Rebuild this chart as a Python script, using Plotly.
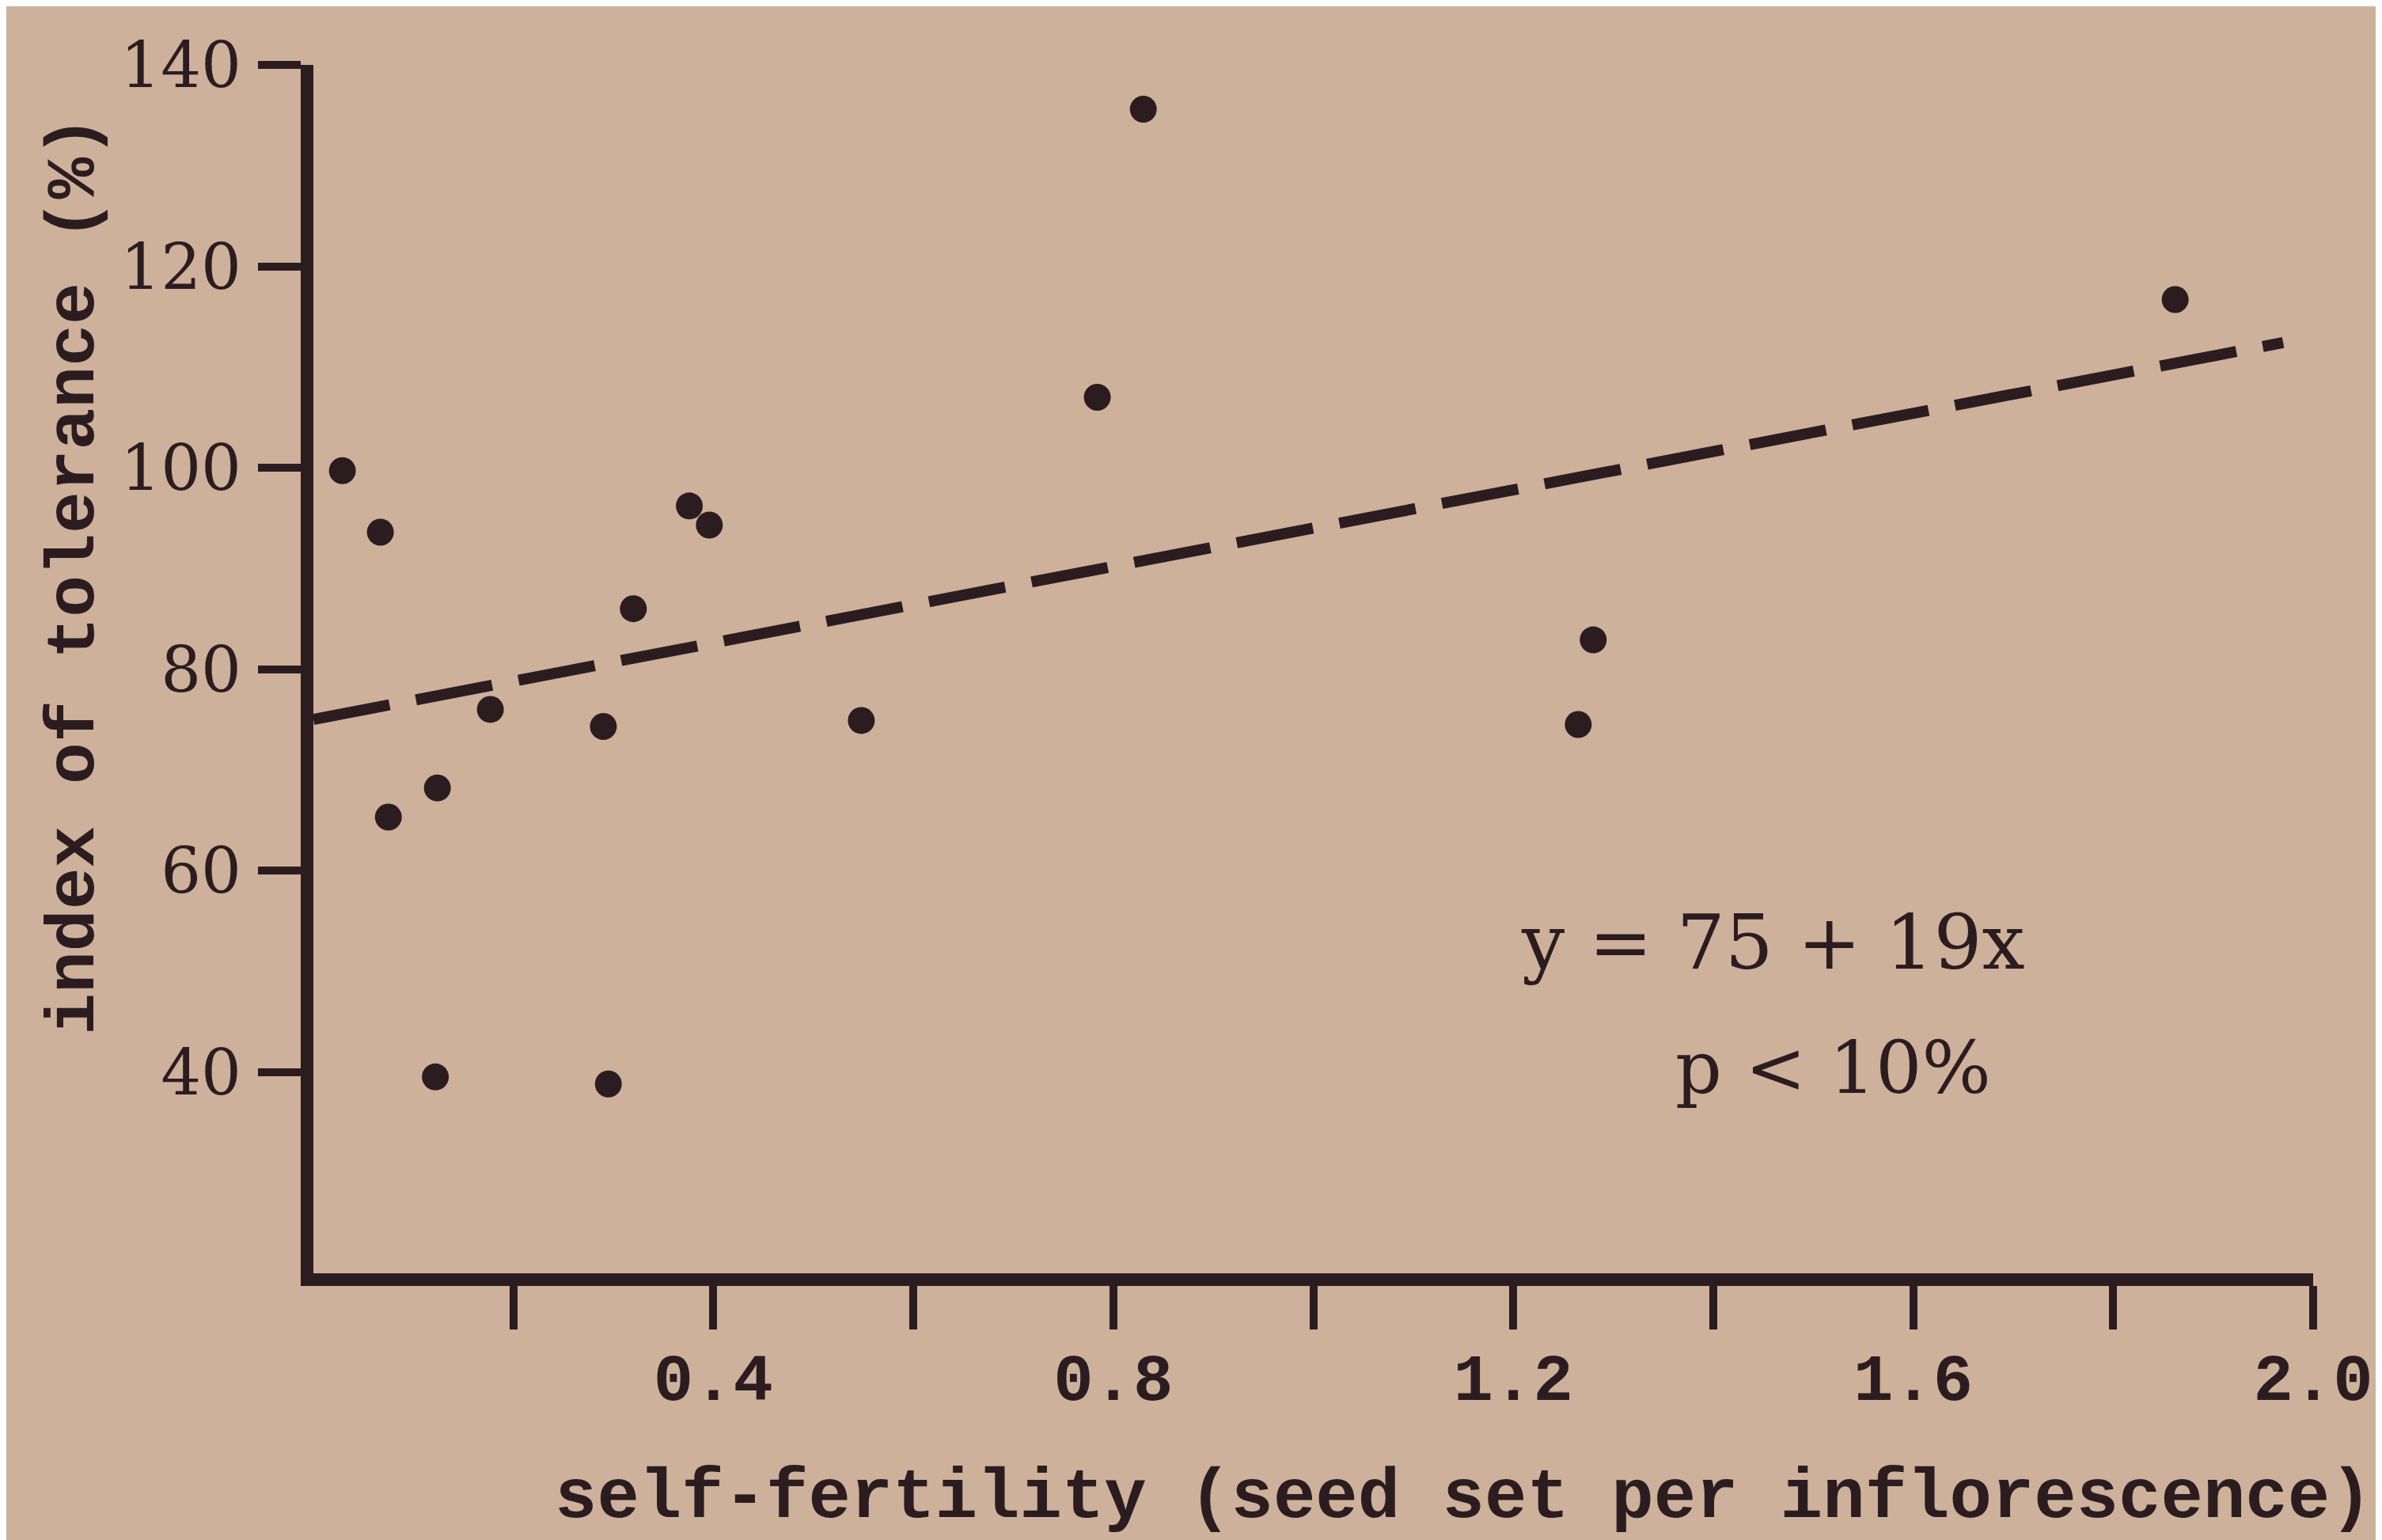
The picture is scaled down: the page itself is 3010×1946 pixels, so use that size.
import plotly.graph_objects as go

# ---- data ----
self_fertility = [0.029, 0.067, 0.075, 0.124, 0.122, 0.177, 0.290, 0.295, 0.320,
                  0.376, 0.396, 0.548, 0.784, 0.830, 1.265, 1.280, 1.862]
tolerance = [99.7, 93.6, 65.3, 68.2, 39.5, 76.0, 74.3, 38.8, 86.0,
             96.2, 94.3, 74.9, 107.0, 135.6, 74.5, 82.9, 116.7]
fit_intercept = 75
fit_slope = 19
fit_x = [0.0, 1.97]
x_tickvals = [0.2, 0.4, 0.6, 0.8, 1.0, 1.2, 1.4, 1.6, 1.8, 2.0]
x_labelvals = [0.4, 0.8, 1.2, 1.6, 2.0]
x_labeltext = ["0.4", "0.8", "1.2", "1.6", "2.0"]
y_tickvals = [40, 60, 80, 100, 120, 140]
y_ticktext = ["40", "60", "80", "100", "120", "140"]

fit_y = [fit_intercept + fit_slope * v for v in fit_x]

INK = "#2b1d1f"
BG = "#cdb19b"

fig = go.Figure()
fig.add_trace(go.Scatter(x=fit_x, y=fit_y, mode="lines",
                         line=dict(color=INK, width=14, dash="98px,34px"),
                         hoverinfo="skip", showlegend=False))
fig.add_trace(go.Scatter(x=self_fertility, y=tolerance, mode="markers",
                         marker=dict(color=INK, size=34), showlegend=False))
# invisible trace carrying the overlay axis used for the x tick labels
fig.add_trace(go.Scatter(x=[x_labelvals[0]], y=[tolerance[0]], xaxis="x2",
                         mode="markers", marker=dict(opacity=0),
                         hoverinfo="skip", showlegend=False))

fig.update_layout(
    width=3010, height=1946,
    paper_bgcolor=BG, plot_bgcolor=BG,
    margin=dict(l=388, r=95, t=74, b=345),
    showlegend=False,
    xaxis=dict(range=[0, 2.0], showgrid=False, zeroline=False,
               showline=True, linecolor=INK, linewidth=16,
               tickmode="array", tickvals=x_tickvals, showticklabels=False,
               ticks="outside", ticklen=55, tickwidth=10, tickcolor=INK),
    xaxis2=dict(overlaying="x", side="bottom", range=[0, 2.0], showgrid=False,
                zeroline=False, showline=False, ticks="", ticklen=0,
                tickmode="array", tickvals=x_labelvals, ticktext=x_labeltext,
                ticklabelstandoff=75,
                tickfont=dict(family="Liberation Mono", size=84, color=INK, weight="bold")),
    yaxis=dict(range=[20, 140], showgrid=False, zeroline=False,
               showline=True, linecolor=INK, linewidth=16,
               tickmode="array", tickvals=y_tickvals, ticktext=y_ticktext,
               ticks="outside", ticklen=54, tickwidth=10, tickcolor=INK,
               ticklabelstandoff=5,
               tickfont=dict(family="DejaVu Serif", size=80, color=INK)),
)

fig.add_annotation(text="self-fertility (seed set per inflorescence)",
                   xref="paper", yref="paper", x=0.575, y=-0.186,
                   showarrow=False, xanchor="center", yanchor="middle",
                   font=dict(family="Liberation Mono", size=89, color=INK, weight="bold"))
fig.add_annotation(text="index of tolerance (%)",
                   xref="paper", yref="paper", x=-0.1196, y=0.5776, textangle=-90,
                   showarrow=False, xanchor="center", yanchor="middle",
                   font=dict(family="Liberation Mono", size=88, color=INK, weight="bold"))
fig.add_annotation(text="y = 75 + 19x",
                   xref="paper", yref="paper", x=0.730, y=0.274,
                   showarrow=False, xanchor="center", yanchor="middle",
                   font=dict(family="DejaVu Serif", size=96, color=INK))
fig.add_annotation(text="p < 10%",
                   xref="paper", yref="paper", x=0.760, y=0.170,
                   showarrow=False, xanchor="center", yanchor="middle",
                   font=dict(family="DejaVu Serif", size=92, color=INK))

fig.write_html("out.html")
